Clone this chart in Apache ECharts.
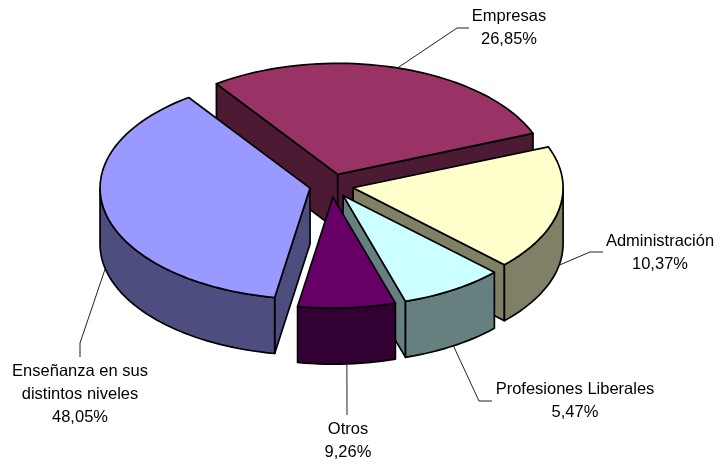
<!DOCTYPE html>
<html style="height: 100%">
<head>
    <meta charset="utf-8">
</head>
<body style="height: 100%; margin: 0; background: #fff">
<div id="container" style="height: 100%"></div>
<script type="text/javascript" src="https://cdn.jsdelivr.net/npm/echarts@6/dist/echarts.min.js"></script>
<script type="text/javascript">
  const categories = ['Empresas', 'Administración', 'Profesiones Liberales', 'Otros', 'Enseñanza en sus\ndistintos niveles'];
  // printed percentages
  const printedPercents = [26.85, 10.37, 5.47, 9.26, 48.05];
  // the slices as actually drawn do not follow the printed numbers, so shares are read from the picture
  const drawnShares = [28.8, 18.2, 8.0, 7.5, 37.5];
  const topColors = ['#993366', '#ffffcc', '#ccffff', '#660066', '#9999ff'];
  const sideColors = ['#4d1a33', '#808066', '#668080', '#330033', '#4d4d80'];
  // back to front
  const drawOrder = [0, 4, 1, 2, 3];
  // label centre, then the leader's elbow and end
  const labelCenters = [[509, 28], [660, 253], [575, 401], [348, 441], [80, 394]];
  const leaderBends = [[[457, 28], [469, 28]], [[590, 252], [603, 252]], [[479, 401], [492, 401]], [[347, 415]], [[80, 343], [80, 357]]];

  const cx = 331.5, cy = 185.5, rx = 210, ry = 111, depth = 56, explode = 22;
  const startAngle = -35.3;

  const total = drawnShares.reduce((a, b) => a + b, 0);
  let running = startAngle;
  const slices = drawnShares.map(function (share) {
    const a0 = running;
    running += share / total * 360;
    return { a0: a0, a1: running, mid: (a0 + running) / 2 };
  });

  // angle in degrees, clockwise from 12 o'clock
  function rim(ox, oy, deg, dy) {
    const r = deg * Math.PI / 180;
    return [ox + rx * Math.sin(r), oy - ry * Math.cos(r) + (dy || 0)];
  }
  function arcPoints(ox, oy, a0, a1, dy) {
    const pts = [];
    const n = Math.max(2, Math.ceil(Math.abs(a1 - a0) / 2));
    for (let i = 0; i <= n; i++) {
      pts.push(rim(ox, oy, a0 + (a1 - a0) * i / n, dy));
    }
    return pts;
  }
  function poly(points, fill) {
    return {
      type: 'polygon',
      shape: { points: points },
      style: { fill: fill, stroke: '#000', lineWidth: 1.7, lineJoin: 'round' }
    };
  }

  function renderSlice(params, api) {
    const i = api.value(0);
    const s = slices[i];
    const midRad = s.mid * Math.PI / 180;
    const ox = cx + explode * Math.sin(midRad);
    const oy = cy - explode * Math.cos(midRad) * ry / rx;
    const children = [];

    // radial cut faces, only those turned to the viewer
    [[s.a0, s.a0 - 90], [s.a1, s.a1 + 90]].forEach(function (face) {
      if (Math.cos(face[1] * Math.PI / 180) >= 0) return;
      const p = rim(ox, oy, face[0]);
      children.push(poly([[ox, oy], p, [p[0], p[1] + depth], [ox, oy + depth]], sideColors[i]));
    });
    // outer wall
    const w0 = Math.max(s.a0, 90), w1 = Math.min(s.a1, 270);
    if (w1 > w0) {
      children.push(poly(arcPoints(ox, oy, w0, w1).concat(arcPoints(ox, oy, w1, w0, depth)), sideColors[i]));
    }
    // top
    children.push(poly([[ox, oy]].concat(arcPoints(ox, oy, s.a0, s.a1)), topColors[i]));

    // leader from the middle of the slice's rim
    const front = Math.cos(midRad) < 0.2;
    children.push({
      type: 'polyline',
      shape: { points: [rim(ox, oy, s.mid, front ? depth : 0)].concat(leaderBends[i]) },
      style: { fill: 'none', stroke: '#222', lineWidth: 1 }
    });
    children.push({
      type: 'text',
      x: labelCenters[i][0],
      y: labelCenters[i][1],
      style: {
        text: categories[i] + '\n' + printedPercents[i].toFixed(2).replace('.', ',') + '%',
        fill: '#000',
        font: '16.5px "Liberation Sans", Arial, sans-serif',
        lineHeight: 23,
        align: 'center',
        verticalAlign: 'middle'
      }
    });
    return { type: 'group', children: children };
  }

  var dom = document.getElementById("container");
  var myChart = echarts.init(dom);
  var option = {
    backgroundColor: '#fff',
    animation: false,
    series: [
      {
        type: 'custom',
        coordinateSystem: 'none',
        silent: true,
        renderItem: renderSlice,
        data: drawOrder.map(i => [i])
      }
    ]
  };
  myChart.setOption(option);
</script>
</body>
</html>
